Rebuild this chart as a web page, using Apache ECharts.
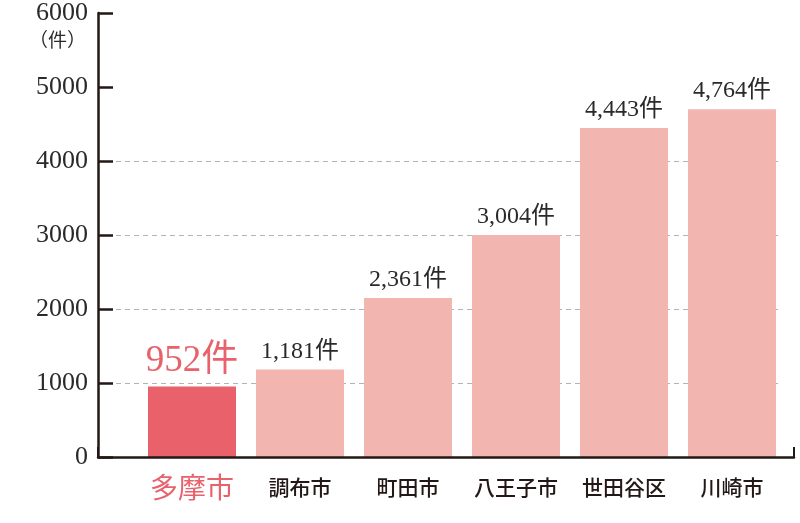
<!DOCTYPE html>
<html>
<head>
<meta charset="utf-8">
<script src="https://cdn.jsdelivr.net/npm/echarts@6/dist/echarts.min.js"></script>
<style>
  html, body { margin: 0; padding: 0; background: #fff; }
  #chart { width: 800px; height: 523px; }
</style>
</head>
<body>
<div id="chart"></div>
<script>
// 件数（市区別）
var cities = ['多摩市', '調布市', '町田市', '八王子市', '世田谷区', '川崎市'];
// bar heights as drawn in the picture
var barValues = [952, 1183, 2150, 3000, 4446, 4700];
// printed value labels
var valueLabels = ['952件', '1,181件', '2,361件', '3,004件', '4,443件', '4,764件'];
var yTicks = [0, 1000, 2000, 3000, 4000, 5000, 6000];
var gridTicks = [0, 1000, 2000, 3000, 4000];
var unitText = '（件）';
var highlightIndex = 0;

var RED = '#e8616b';
var PINK = '#f3b5b0';
var INK = '#231815';
var NUM_FONT = '"Liberation Serif", "Noto Sans CJK JP", serif';
var JP_FONT = '"Noto Sans CJK JP", sans-serif';

var chart = echarts.init(document.getElementById('chart'));

var barData = barValues.map(function (v, i) {
	var hl = i === highlightIndex;
	return {
		value: v,
		itemStyle: { color: hl ? RED : PINK },
		label: {
			formatter: valueLabels[i],
			color: hl ? RED : '#2a2a2a',
			fontSize: hl ? 37 : 24,
			distance: hl ? 7 : 6
		}
	};
});

var option = {
	backgroundColor: '#fff',
	animation: false,
	// unit caption under the top tick
	title: {
		text: unitText,
		left: 29,
		top: 30,
		padding: 0,
		textStyle: { fontSize: 19, fontWeight: 'normal', color: '#2a2a2a', fontFamily: JP_FONT }
	},
	grid: [
		// axes frame
		{ left: 98, right: 6, top: 13, bottom: 66 },
		// dashed guide lines (up to 4000 only)
		{ left: 98, right: 18, top: 161, bottom: 66 },
		// bars
		{ left: 138, right: 14, top: 13, bottom: 66 }
	],
	xAxis: [
		{
			gridIndex: 0, type: 'value', min: 0, max: 1, interval: 1, z: 10,
			axisLine: { show: true, lineStyle: { color: INK, width: 2.5 } },
			axisTick: { show: true, inside: true, length: 10, lineStyle: { color: INK, width: 2 } },
			axisLabel: { show: false },
			splitLine: { show: false }
		},
		{
			gridIndex: 1, type: 'value', show: false
		},
		{
			gridIndex: 2, type: 'category', data: cities,
			axisLine: { show: false },
			axisTick: { show: false },
			axisLabel: {
				interval: 0,
				margin: 15,
				formatter: function (v, i) {
					return i === highlightIndex ? '{hl|' + v + '}' : '{n|' + v + '}';
				},
				rich: {
					hl: { fontSize: 28, color: RED, fontFamily: JP_FONT, lineHeight: 30 },
					n: { fontSize: 21, color: INK, fontFamily: JP_FONT, lineHeight: 30, fontWeight: 500 }
				}
			}
		}
	],
	yAxis: [
		{
			gridIndex: 0, type: 'value', min: yTicks[0], max: yTicks[yTicks.length - 1],
			interval: 1000, z: 10,
			axisLine: { show: true, lineStyle: { color: INK, width: 2.5 } },
			axisTick: { show: true, inside: true, length: 15, lineStyle: { color: INK, width: 2.5 } },
			axisLabel: {
				margin: 10, fontSize: 26, color: '#2a2a2a', fontFamily: NUM_FONT,
				formatter: function (v) { return String(v); }
			},
			splitLine: { show: false }
		},
		{
			gridIndex: 1, type: 'value', min: gridTicks[0], max: gridTicks[gridTicks.length - 1],
			interval: 1000,
			axisLine: { show: false },
			axisTick: { show: false },
			axisLabel: { show: false },
			splitLine: { show: true, lineStyle: { color: '#b3b3b3', width: 1, type: [5, 4] } }
		},
		{
			gridIndex: 2, type: 'value', min: yTicks[0], max: yTicks[yTicks.length - 1], show: false
		}
	],
	series: [
		{
			type: 'bar',
			xAxisIndex: 2,
			yAxisIndex: 2,
			barWidth: 88,
			data: barData,
			label: {
				show: true,
				position: 'top',
				fontFamily: NUM_FONT,
				textBorderColor: '#fff',
				textBorderWidth: 3
			}
		}
	]
};

chart.setOption(option);
</script>
</body>
</html>
